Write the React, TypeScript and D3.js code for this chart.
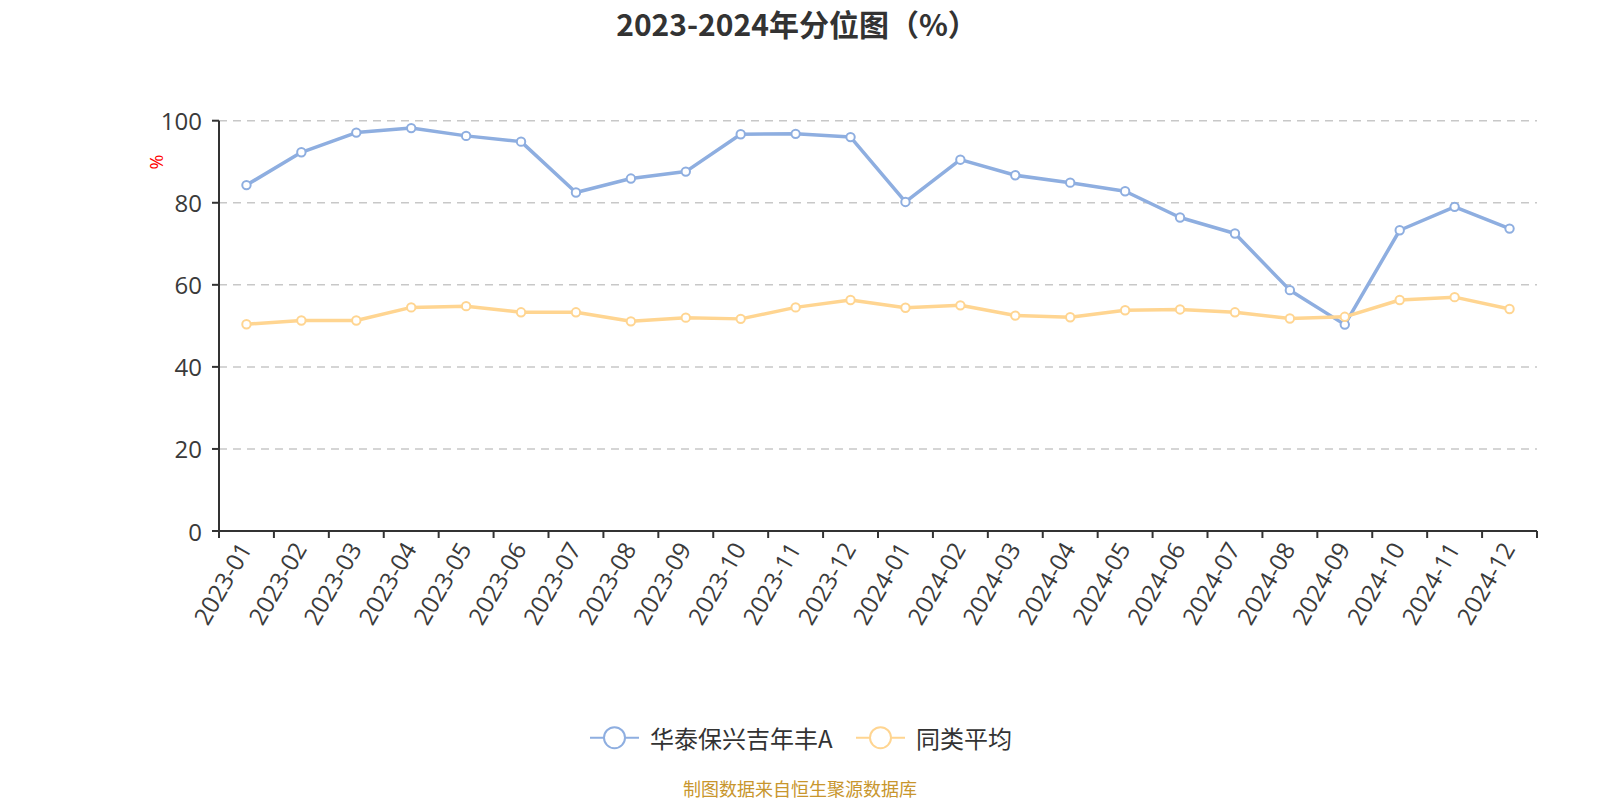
import React from "react";
import * as d3 from "d3";

const categories = [
  "2023-01", "2023-02", "2023-03", "2023-04", "2023-05", "2023-06",
  "2023-07", "2023-08", "2023-09", "2023-10", "2023-11", "2023-12",
  "2024-01", "2024-02", "2024-03", "2024-04", "2024-05", "2024-06",
  "2024-07", "2024-08", "2024-09", "2024-10", "2024-11", "2024-12",
];

const fundValues = [
  84.3, 92.3, 97.1, 98.2, 96.3, 94.9, 82.5, 85.9, 87.6, 96.7, 96.8, 96.0,
  80.2, 90.5, 86.7, 84.9, 82.8, 76.4, 72.5, 58.7, 50.3, 73.3, 79.0, 73.7,
];

const avgValues = [
  50.4, 51.3, 51.3, 54.5, 54.8, 53.3, 53.3, 51.1, 52.0, 51.7, 54.5, 56.3,
  54.4, 55.0, 52.5, 52.1, 53.8, 54.0, 53.3, 51.8, 52.2, 56.3, 57.0, 54.1,
];

const yTicks = [0, 20, 40, 60, 80, 100];

const seriesNames = ["华泰保兴吉年丰A", "同类平均"];
const titleText = "2023-2024年分位图（%）";
const footerText = "制图数据来自恒生聚源数据库";
const yUnit = "%";

const BLUE = "#8eaee0";
const YELLOW = "#ffd591";
const FONT = '"Open Sans", "Noto Sans CJK SC", sans-serif';
const CJK = '"Noto Sans CJK SC", "Open Sans", sans-serif';

export default function App() {
  const W = 1600;
  const H = 800;
  const left = 219;
  const right = 1537;
  const top = 120.7;
  const bottom = 531;

  const x = d3.scaleBand<string>().domain(categories).range([left, right]).padding(0);
  const y = d3.scaleLinear().domain([0, 100]).range([bottom, top]);
  const cx = (c: string) => (x(c) ?? 0) + x.bandwidth() / 2;

  const line = d3
    .line<number>()
    .x((_, i) => cx(categories[i]))
    .y((d) => y(d));

  const series = [
    { name: seriesNames[0], values: fundValues, color: BLUE },
    { name: seriesNames[1], values: avgValues, color: YELLOW },
  ];

  const boundaries = categories.map((c) => x(c) ?? 0).concat([right]);

  const legendItems = [
    { name: seriesNames[0], color: BLUE, x0: 590, tx: 650 },
    { name: seriesNames[1], color: YELLOW, x0: 856, tx: 916 },
  ];
  const legendY = 737.7;

  return (
    <svg
      width={W}
      height={H}
      style={{ position: "absolute", left: 0, top: 0, background: "#fff" }}
    >
      <text
        x={797}
        y={23}
        textAnchor="middle"
        dominantBaseline="central"
        fontFamily={CJK}
        fontWeight="bold"
        fontSize={30}
        fill="#333"
      >
        {titleText}
      </text>

      {/* grid lines */}
      {yTicks
        .filter((t) => t !== 0)
        .map((t) => (
          <line
            key={"g" + t}
            x1={left}
            x2={right}
            y1={y(t)}
            y2={y(t)}
            stroke="#c8c8c8"
            strokeWidth={1.5}
            strokeDasharray="8 6"
          />
        ))}

      {/* y axis */}
      <line x1={left} x2={left} y1={bottom} y2={top} stroke="#333" strokeWidth={2} />
      {yTicks.map((t) => (
        <g key={"y" + t}>
          <line x1={left - 7} x2={left} y1={y(t)} y2={y(t)} stroke="#333" strokeWidth={2} />
          <text
            x={left - 17}
            y={y(t)}
            textAnchor="end"
            dominantBaseline="central"
            fontFamily={FONT}
            fontSize={24}
            fill="#3a3a3a"
          >
            {t}
          </text>
        </g>
      ))}
      <text
        transform={`translate(156,162) rotate(-90)`}
        textAnchor="middle"
        dominantBaseline="central"
        fontFamily={FONT}
        fontSize={18}
        fill="#ff0000"
      >
        {yUnit}
      </text>

      {/* x axis */}
      <line x1={left} x2={right} y1={bottom} y2={bottom} stroke="#333" strokeWidth={2} />
      {boundaries.map((b, i) => (
        <line key={"xt" + i} x1={b} x2={b} y1={bottom} y2={bottom + 7} stroke="#333" strokeWidth={2} />
      ))}
      {categories.map((c) => (
        <text
          key={"xl" + c}
          transform={`translate(${cx(c) - 2},${bottom + 13}) rotate(-60)`}
          textAnchor="end"
          dominantBaseline="central"
          fontFamily={FONT}
          fontSize={24}
          fill="#3a3a3a"
        >
          {c}
        </text>
      ))}

      {/* series */}
      {series.map((s) => (
        <g key={s.name}>
          <path d={line(s.values) ?? ""} fill="none" stroke={s.color} strokeWidth={3.5} strokeLinejoin="round" />
          {s.values.map((v, i) => (
            <circle
              key={i}
              cx={cx(categories[i])}
              cy={y(v)}
              r={4.2}
              fill="#fff"
              stroke={s.color}
              strokeWidth={2}
            />
          ))}
        </g>
      ))}

      {/* legend */}
      {legendItems.map((l) => (
        <g key={"lg" + l.name}>
          <line x1={l.x0} x2={l.x0 + 49} y1={legendY} y2={legendY} stroke={l.color} strokeWidth={2} />
          <circle cx={l.x0 + 24.5} cy={legendY} r={10.5} fill="#fff" stroke={l.color} strokeWidth={2} />
          <text
            x={l.tx}
            y={legendY}
            dominantBaseline="central"
            fontFamily={CJK}
            fontSize={24}
            fill="#333"
          >
            {l.name}
          </text>
        </g>
      ))}

      <text
        x={800}
        y={787.5}
        textAnchor="middle"
        dominantBaseline="central"
        fontFamily={CJK}
        fontSize={18}
        fill="#c8962d"
      >
        {footerText}
      </text>
    </svg>
  );
}
